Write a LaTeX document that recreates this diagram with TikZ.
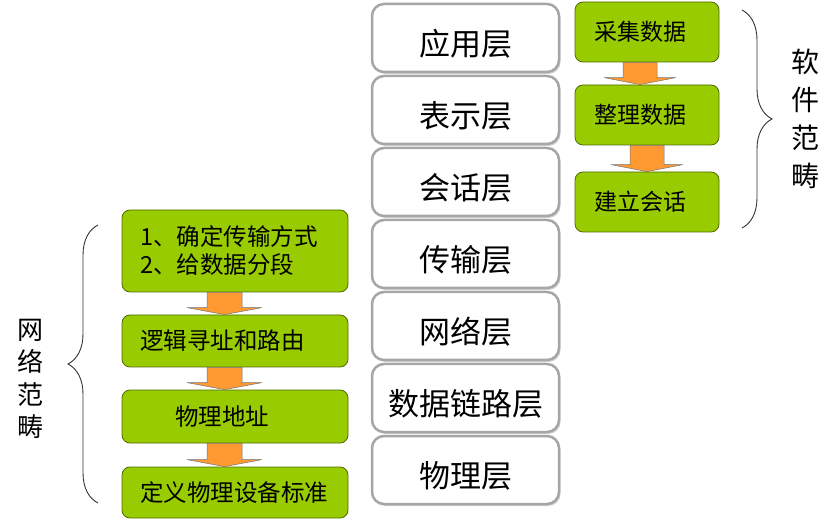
\documentclass[tikz,border=0pt]{standalone}
\usepackage{fontspec}
\newfontfamily\cjk{Noto Sans CJK SC}
\usetikzlibrary{calc,shadows,decorations.pathreplacing}
\definecolor{grn}{HTML}{99CC00}
\definecolor{grnline}{HTML}{4F6B00}
\definecolor{orng}{HTML}{FF9A33}
\definecolor{layerline}{HTML}{A6A6A6}
\tikzset{
  layerbox/.style={draw=layerline, line width=2.5pt, rounded corners=12pt, fill=white,
    minimum width=187pt, minimum height=68pt, inner sep=0pt,
    text height=36pt, text depth=1pt,
    font=\cjk\fontsize{31}{34}\selectfont,
    drop shadow={shadow xshift=1.5pt, shadow yshift=-2pt, fill=black!35, opacity=0.5}},
  gbox/.style={draw=grnline, line width=0.8pt, rounded corners=8pt, fill=grn, inner sep=0pt},
  rbox/.style={gbox, minimum width=144pt, minimum height=60pt, font=\cjk\fontsize{23}{26}\selectfont},
  lbox/.style={gbox, minimum width=226pt, text width=190pt, align=left, font=\cjk\fontsize{23.5}{28}\selectfont},
  barrow/.style={fill=orng, draw=black!55, line width=0.5pt, line join=miter},
  bracestyle/.style={draw=black!80, line width=0.9pt, decorate},
  sidetext/.style={font=\cjk\fontsize{28}{38}\selectfont, align=center, inner sep=0pt}
}
% #1 from node, #2 to node, #3 x offset, #4 shaft half width, #5 head half width, #6 head length
\newcommand\blkarrow[6]{%
  \draw[barrow] ($(#1.south)+(#3-#4,0)$) -- ($(#2.north)+(#3-#4,-#6)$) -- ($(#2.north)+(#3-#5,-#6)$)
    -- ($(#2.north)+(#3,0)$) -- ($(#2.north)+(#3+#5,-#6)$) -- ($(#2.north)+(#3+#4,-#6)$)
    -- ($(#1.south)+(#3+#4,0)$) -- cycle;}
\begin{document}
\begin{tikzpicture}[x=1pt,y=-1pt]
\useasboundingbox (0,0) rectangle (833,521);
% OSI layers
\node[layerbox] (l1) at (465.5,38) {应用层};
\node[layerbox] (l2) at (465.5,110) {表示层};
\node[layerbox] (l3) at (465.5,182) {会话层};
\node[layerbox] (l4) at (465.5,254) {传输层};
\node[layerbox] (l5) at (465.5,326) {网络层};
\node[layerbox] (l6) at (465.5,398) {数据链路层};
\node[layerbox] (l7) at (465.5,470) {物理层};
% right green boxes
\node[rbox] (r1) at (647,32) {\hspace*{-14pt}采集数据};
\node[rbox] (r2) at (647,115) {\hspace*{-14pt}整理数据};
\node[rbox] (r3) at (647,202) {\hspace*{-14pt}建立会话};
\blkarrow{r1}{r2}{-7}{17}{36}{7}
\blkarrow{r2}{r3}{0}{17}{36}{7}
% left green boxes
\node[lbox, minimum height=82pt] (b1) at (235,251) {1、确定传输方式\\2、给数据分段};
\node[lbox, minimum height=52pt] (b2) at (235,341) {逻辑寻址和路由};
\node[lbox, minimum height=53pt] (b3) at (235,416.5) {\hspace*{35pt}物理地址};
\node[lbox, minimum height=51pt] (b4) at (235,492.5) {定义物理设备标准};
\blkarrow{b1}{b2}{-10.5}{17.5}{37.5}{7}
\blkarrow{b2}{b3}{-10.5}{17.5}{37.5}{7}
\blkarrow{b3}{b4}{-10.5}{17.5}{37.5}{7}
% braces
\coordinate (rbt) at (742,10);
\coordinate (rbb) at (742,228);
\draw[bracestyle, decoration={brace, amplitude=30pt}] (rbt) -- (rbb);
\node[sidetext] (rt) at (805,119) {软\\件\\范\\畴};
\coordinate (lbt) at (98,225);
\coordinate (lbb) at (98,503);
\draw[bracestyle, decoration={brace, amplitude=30pt}] (lbb) -- (lbt);
\node[sidetext, font=\cjk\fontsize{26}{32.5}\selectfont] (lt) at (30,379) {网\\络\\范\\畴};
\end{tikzpicture}
\end{document}
